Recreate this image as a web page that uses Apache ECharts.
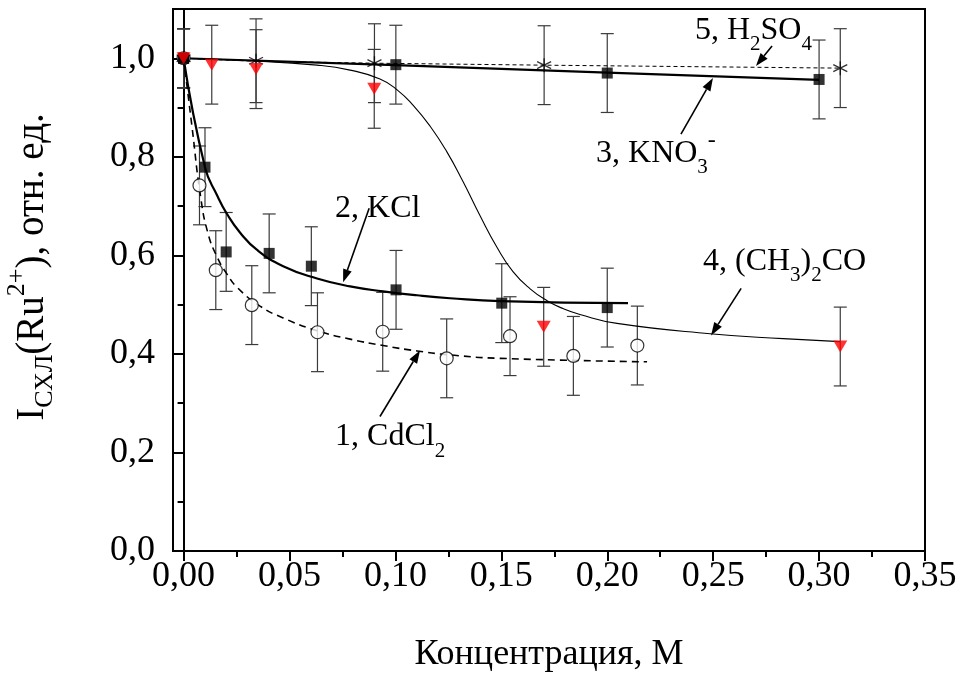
<!DOCTYPE html>
<html>
<head>
<meta charset="utf-8">
<script src="https://cdn.jsdelivr.net/npm/echarts@6/dist/echarts.min.js"></script>
<style>
  html, body { margin: 0; padding: 0; background: #fff; }
  #chart { width: 963px; height: 675px; }
</style>
</head>
<body>
<div id="chart"></div>
<script>
// ---- axis ticks ----
const xTicks = [0, 0.05, 0.10, 0.15, 0.20, 0.25, 0.30, 0.35];
const xMinorTicks = [0.025, 0.075, 0.125, 0.175, 0.225, 0.275, 0.325];
const yTicks = [0, 0.2, 0.4, 0.6, 0.8, 1.0];
const yMinorTicks = [0.1, 0.3, 0.5, 0.7, 0.9];

// ---- 1, CdCl2 ----
const cdX   = [0, 0.0075, 0.0152, 0.0322, 0.0632, 0.0940, 0.1242, 0.1541, 0.1840, 0.2142];
const cdY   = [1.0, 0.742, 0.570, 0.499, 0.444, 0.445, 0.391, 0.436, 0.396, 0.417];
const cdErr = [0.06, 0.08, 0.08, 0.08, 0.08, 0.08, 0.08, 0.08, 0.08, 0.08];
const cdFitX = [0, 0.0040, 0.0080, 0.0115, 0.0160, 0.0205, 0.0253, 0.0361, 0.0470, 0.0630, 0.0786, 0.0942, 0.1102, 0.1258, 0.1494, 0.2188];
const cdFitY = [1.0, 0.860, 0.720, 0.645, 0.595, 0.562, 0.535, 0.497, 0.473, 0.447, 0.430, 0.417, 0.406, 0.398, 0.391, 0.384];

// ---- 2, KCl ----
const kclX   = [0, 0.0101, 0.0201, 0.0404, 0.0603, 0.1003, 0.1502, 0.2000];
const kclY   = [1.0, 0.779, 0.607, 0.604, 0.578, 0.530, 0.503, 0.494];
const kclErr = [0.06, 0.08, 0.08, 0.08, 0.08, 0.08, 0.08, 0.08];
const kclFitX = [0, 0.0101, 0.0158, 0.0205, 0.0267, 0.0347, 0.0470, 0.0630, 0.0786, 0.0942, 0.1102, 0.1258, 0.1494, 0.2098];
const kclFitY = [1.0, 0.779, 0.722, 0.684, 0.646, 0.611, 0.578, 0.553, 0.537, 0.527, 0.519, 0.513, 0.507, 0.503];

// ---- 3, KNO3 ----
const kno3X   = [0, 0.1002, 0.2000, 0.3000];
const kno3Y   = [1.0, 0.987, 0.970, 0.957];
const kno3Err = [0.06, 0.08, 0.08, 0.08];
const kno3FitX = [0, 0.10, 0.20, 0.30];
const kno3FitY = [1.0, 0.986, 0.971, 0.956];

// ---- 4, (CH3)2CO ----
const acX   = [0, 0.0133, 0.0342, 0.0900, 0.1700, 0.3100];
const acY   = [1.0, 0.987, 0.978, 0.938, 0.455, 0.415];
const acErr = [0.06, 0.08, 0.08, 0.08, 0.08, 0.08];
const acFitX = [0, 0.0314, 0.0630, 0.0786, 0.0927, 0.1008, 0.1083, 0.1164, 0.1243, 0.1319, 0.1399, 0.1480, 0.1555, 0.1636, 0.1716, 0.1791, 0.1871, 0.2046, 0.2485, 0.2830, 0.3099];
const acFitY = [1.0, 0.995, 0.986, 0.976, 0.958, 0.936, 0.905, 0.862, 0.810, 0.750, 0.681, 0.616, 0.567, 0.532, 0.508, 0.492, 0.480, 0.462, 0.441, 0.431, 0.425];

// ---- 5, H2SO4 ----
const h2X   = [0, 0.0342, 0.0901, 0.1702, 0.3100];
const h2Y   = [1.0, 0.995, 0.990, 0.986, 0.980];
const h2Err = [0.06, 0.085, 0.08, 0.08, 0.08];
const h2FitX = [0, 0.0342, 0.0901, 0.1702, 0.3100];
const h2FitY = [1.0, 0.994, 0.990, 0.986, 0.980];

// ---- curve captions: [label, text x, text y, arrow from x, from y, arrow to x, to y] ----
const captions = [
  ['{m|5, H}{s|2}{m|SO}{s|4}',         0.2414, 1.0565, 0.2778, 1.0250, 0.2702, 0.9843],
  ['{m|3, KNO}{s|3}{u|-}',              0.1947, 0.8075, 0.2348, 0.8461, 0.2499, 0.9599],
  ['{m|2, KCl}',                        0.0715, 0.6947, 0.0876, 0.6957, 0.0753, 0.5455],
  ['{m|4, (CH}{s|3}{m|)}{s|2}{m|CO}',   0.2452, 0.5870, 0.2632, 0.5331, 0.2490, 0.4376],
  ['{m|1, CdCl}{s|2}',                  0.0715, 0.2313, 0.0927, 0.2730, 0.1116, 0.4071]
];

const FONT = 'Liberation Serif';
const zip = (xs, ys) => xs.map((x, i) => [x, ys[i]]);
const bars = (xs, ys, es) => xs.map((x, i) => [x, ys[i] - es[i], ys[i] + es[i]]);

function errorBarItem(params, api) {
  const x = api.value(0);
  const lo = api.coord([x, api.value(1)]);
  const hi = api.coord([x, api.value(2)]);
  const h = 6.5;
  const st = () => ({ stroke: '#3a3a3a', lineWidth: 1.2 });
  return {
    type: 'group',
    children: [
      { type: 'line', shape: { x1: lo[0], y1: lo[1], x2: hi[0], y2: hi[1] }, style: st() },
      { type: 'line', shape: { x1: lo[0] - h, y1: lo[1], x2: lo[0] + h, y2: lo[1] }, style: st() },
      { type: 'line', shape: { x1: hi[0] - h, y1: hi[1], x2: hi[0] + h, y2: hi[1] }, style: st() }
    ]
  };
}

function arrowItem(params, api) {
  const a = api.coord([api.value(0), api.value(1)]);
  const b = api.coord([api.value(2), api.value(3)]);
  const ang = Math.atan2(b[1] - a[1], b[0] - a[0]);
  const L = 13, W = 4.5;
  const bx = b[0] - L * Math.cos(ang), by = b[1] - L * Math.sin(ang);
  const nx = -Math.sin(ang) * W, ny = Math.cos(ang) * W;
  return {
    type: 'group',
    children: [
      { type: 'line', shape: { x1: a[0], y1: a[1], x2: bx, y2: by }, style: { stroke: '#000', lineWidth: 1.6 } },
      { type: 'polygon', shape: { points: [[b[0], b[1]], [bx + nx, by + ny], [bx - nx, by - ny]] }, style: { fill: '#000' } }
    ]
  };
}

const captionRich = {
  m: { fontFamily: FONT, fontSize: 32, lineHeight: 49, verticalAlign: 'middle', color: '#000' },
  s: { fontFamily: FONT, fontSize: 21, lineHeight: 21, verticalAlign: 'bottom', color: '#000' },
  u: { fontFamily: FONT, fontSize: 24, lineHeight: 21, verticalAlign: 'top', color: '#000' }
};

function captionItem(params, api) {
  const p = api.coord([api.value(0), api.value(1)]);
  return {
    type: 'text',
    x: p[0], y: p[1],
    style: {
      text: captions[params.dataIndex][0],
      rich: captionRich,
      align: 'left',
      verticalAlign: 'middle',
      fill: '#000'
    }
  };
}

const errSeries = (xs, ys, es) => ({
  type: 'custom', renderItem: errorBarItem, data: bars(xs, ys, es),
  encode: { x: 0, y: [1, 2] }, z: 1, silent: true
});

const fitLine = (xs, ys, extra) => Object.assign({
  type: 'line', data: zip(xs, ys), showSymbol: false, symbol: 'none',
  smooth: true, z: 2, silent: true,
  lineStyle: { color: '#000', width: 2 }
}, extra);

const chart = echarts.init(document.getElementById('chart'), null, { renderer: 'canvas' });

const axisFont = { fontFamily: FONT, fontSize: 36, color: '#000' };

chart.setOption({
  backgroundColor: '#fff',
  animation: false,
  grid: {
    left: 173, right: 38, top: 9, bottom: 124,
    show: true, borderColor: '#000', borderWidth: 2,
    outerBoundsMode: 'none'
  },
  xAxis: [
    {
      type: 'value', min: -0.005, max: 0.35,
      axisLine: { show: true, lineStyle: { color: '#000', width: 2 } },
      axisTick: { show: true, inside: false, length: 10, customValues: xTicks, lineStyle: { color: '#000', width: 2 } },
      axisLabel: Object.assign({ margin: 8, customValues: xTicks, formatter: v => v.toFixed(2).replace('.', ',') }, axisFont),
      splitLine: { show: false }
    },
    {
      type: 'value', min: -0.005, max: 0.35, position: 'bottom', offset: 0,
      axisLine: { show: false },
      axisTick: { show: true, inside: false, length: 6, customValues: xMinorTicks, lineStyle: { color: '#000', width: 2 } },
      axisLabel: { show: false },
      splitLine: { show: false }
    }
  ],
  yAxis: [
    {
      type: 'value', min: 0, max: 1.1,
      axisLine: { show: true, lineStyle: { color: '#000', width: 2 } },
      axisTick: { show: true, inside: false, length: 10, customValues: yTicks, lineStyle: { color: '#000', width: 2 } },
      axisLabel: Object.assign({ margin: 18, customValues: yTicks, formatter: v => v.toFixed(1).replace('.', ',') }, axisFont),
      splitLine: { show: false }
    },
    {
      type: 'value', min: 0, max: 1.1, position: 'left', offset: 0,
      axisLine: { show: false },
      axisTick: { show: true, inside: false, length: 6, customValues: yMinorTicks, lineStyle: { color: '#000', width: 2 } },
      axisLabel: { show: false },
      splitLine: { show: false }
    }
  ],
  graphic: [
    {
      type: 'text', x: 549, y: 655,
      style: { text: 'Концентрация, М', fontFamily: FONT, fontSize: 36, fill: '#000', align: 'center', verticalAlign: 'middle' }
    },
    {
      type: 'text', x: 33, y: 267, rotation: Math.PI / 2,
      style: {
        text: '{m|I}{s|СХЛ}{m|(Ru}{u|2+}{m|), отн. ед.}',
        align: 'center', verticalAlign: 'middle', fill: '#000',
        rich: {
          m: { fontFamily: FONT, fontSize: 39, lineHeight: 58, verticalAlign: 'middle', color: '#000' },
          s: { fontFamily: FONT, fontSize: 26, lineHeight: 20, verticalAlign: 'bottom', padding: [0, 0, 4, 0], color: '#000' },
          u: { fontFamily: FONT, fontSize: 26, lineHeight: 20, verticalAlign: 'top', color: '#000' }
        }
      }
    }
  ],
  series: [
    // error bars
    errSeries(cdX, cdY, cdErr),
    errSeries(kclX, kclY, kclErr),
    errSeries(kno3X, kno3Y, kno3Err),
    errSeries(acX, acY, acErr),
    errSeries(h2X, h2Y, h2Err),
    // fitted curves
    fitLine(cdFitX, cdFitY, { lineStyle: { color: '#000', width: 1.6, type: [7, 5] } }),
    fitLine(kclFitX, kclFitY, { lineStyle: { color: '#000', width: 2.2 } }),
    fitLine(kno3FitX, kno3FitY, { smooth: false, lineStyle: { color: '#000', width: 2.2 } }),
    fitLine(acFitX, acFitY, { lineStyle: { color: '#000', width: 1.1 } }),
    fitLine(h2FitX, h2FitY, { smooth: false, lineStyle: { color: '#000', width: 1, type: [4, 3] } }),
    // measured points
    {
      name: '1, CdCl2', type: 'scatter', data: zip(cdX, cdY), z: 3,
      symbol: 'circle', symbolSize: 13,
      itemStyle: { color: '#fff', borderColor: '#000', borderWidth: 1.2 }
    },
    {
      name: '2, KCl', type: 'scatter', data: zip(kclX, kclY), z: 3,
      symbol: 'rect', symbolSize: 11, itemStyle: { color: '#000' }
    },
    {
      name: '3, KNO3', type: 'scatter', data: zip(kno3X, kno3Y), z: 3,
      symbol: 'rect', symbolSize: 11, itemStyle: { color: '#000' }
    },
    {
      name: '5, H2SO4', type: 'scatter', data: zip(h2X, h2Y), z: 3,
      symbol: 'path://M5,0L5,10M0.67,2.5L9.33,7.5M0.67,7.5L9.33,2.5', symbolSize: 14,
      itemStyle: { color: 'none', borderColor: '#000', borderWidth: 1.3 }
    },
    {
      name: '4, (CH3)2CO', type: 'scatter', data: zip(acX, acY), z: 4,
      symbol: 'path://M0,0L10,0L5,8Z', symbolSize: [14, 12],
      itemStyle: { color: '#ff0000' }
    },
    // captions and arrows
    {
      type: 'custom', renderItem: arrowItem, z: 5, silent: true,
      data: captions.map(c => [c[3], c[4], c[5], c[6]]),
      encode: { x: [0, 2], y: [1, 3] }
    },
    {
      type: 'custom', renderItem: captionItem, z: 5, silent: true,
      data: captions.map(c => [c[1], c[2]]),
      encode: { x: 0, y: 1 }
    }
  ]
});
</script>
</body>
</html>
